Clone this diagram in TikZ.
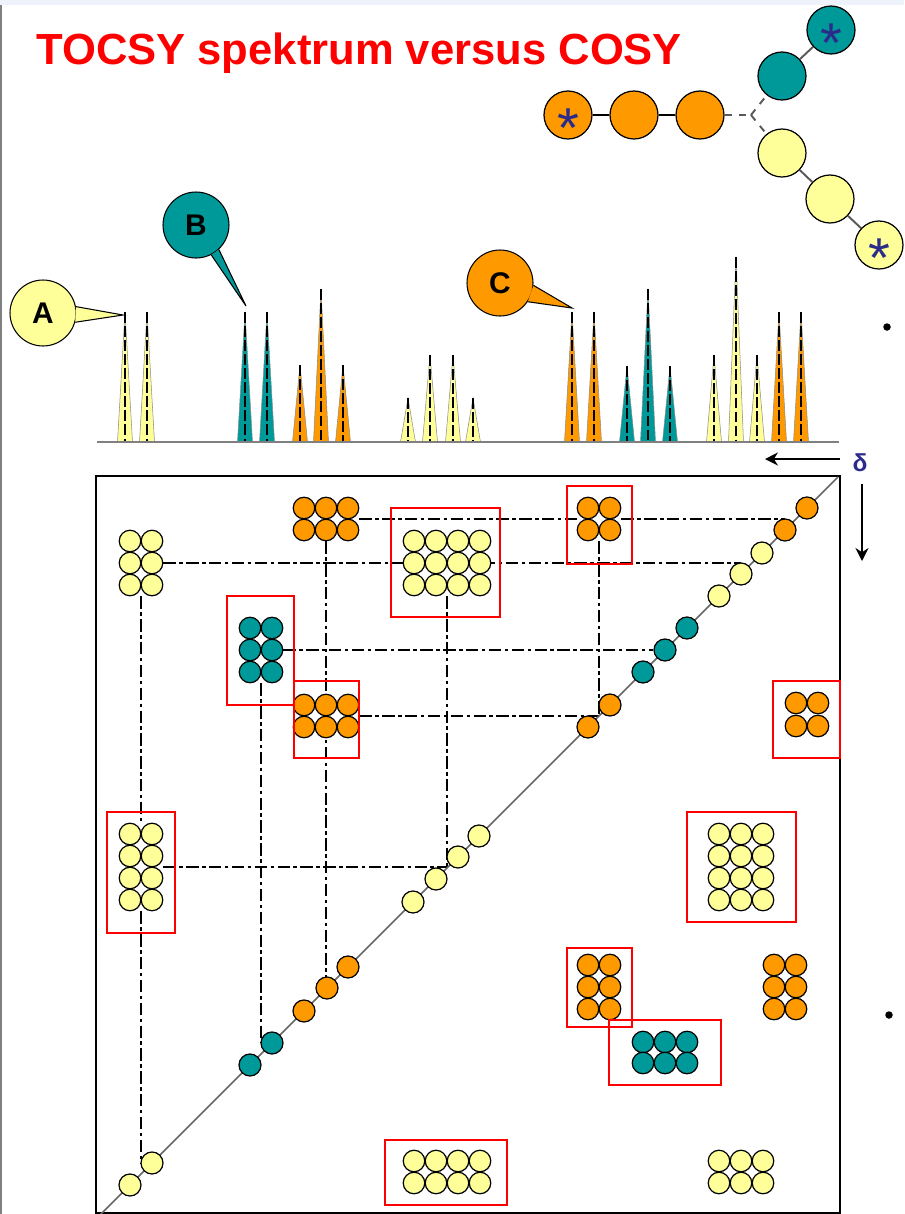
\documentclass[tikz,border=0pt]{standalone}
\usepackage{fontspec}
\setmainfont{Liberation Sans}
\usetikzlibrary{arrows.meta,backgrounds}
\definecolor{SpinOrange}{HTML}{FF9900}
\definecolor{SpinTeal}{HTML}{009999}
\definecolor{SpinYellow}{HTML}{FFFF99}
\definecolor{SlideRed}{HTML}{FF0000}
\definecolor{DeltaBlue}{HTML}{2B2B8C}
\definecolor{SlideTop}{HTML}{EEF2FA}
% one block of cross peaks: name, colour, columns, rows
\newcommand{\crosspeak}[4]{%
  \foreach \cx in {#3}{\foreach \cy in {#4}{\node[pk=#2] (#1-\cx-\cy) at (\cx,\cy) {};}}}

\begin{document}
\begin{tikzpicture}[x=0.02cm,y=-0.02cm,
  pk/.style={circle,draw=black,line width=0.7pt,fill=#1,minimum size=0.43cm,inner sep=0pt},
  ring/.style={circle,draw=black,line width=0.7pt,fill=#1,minimum size=0.96cm,inner sep=0pt},
  bubble/.style={circle,draw=black,line width=0.6pt,fill=#1,minimum size=1.32cm,inner sep=0pt,font=\fontsize{17}{17}\selectfont\bfseries},
  star/.style={text=DeltaBlue,font=\fontsize{32}{32}\selectfont,anchor=base,yshift=-18.6pt,inner sep=0pt},
  bond/.style={line width=1.1pt},
  xline/.style={line width=1.2pt,dash pattern=on 7pt off 2pt on 2pt off 2pt},
  redbox/.style={draw=SlideRed,line width=1.1pt},
  arr/.style={-{Stealth[length=2.6mm,width=2.6mm]},line width=0.9pt}]
  \useasboundingbox (0,0) rectangle (904,1214);
  \fill[SlideTop] (0,0) rectangle (904,5);
  \draw[gray,line width=1.2pt] (1,5) -- (1,1214);

  % title
  \node[anchor=base west,inner sep=0pt,text=SlideRed,font=\fontsize{24.8}{24.8}\selectfont\bfseries] (title) at (36,64) {TOCSY spektrum versus COSY};

  % molecule
  \node[ring=SpinOrange] (m1) at (568,115) {};
  \node[ring=SpinOrange] (m2) at (634,115) {};
  \node[ring=SpinOrange] (m3) at (700,115) {};
  \coordinate (br) at (751,115);
  \node[ring=SpinTeal] (m4) at (782,76) {};
  \node[ring=SpinTeal] (m5) at (831,30) {};
  \node[ring=SpinYellow] (m6) at (782,153) {};
  \node[ring=SpinYellow] (m7) at (830,199) {};
  \node[ring=SpinYellow] (m8) at (879,245) {};
  \node[star] (s1) at (m1) {*};
  \node[star] (s2) at (m5) {*};
  \node[star] (s3) at (m8) {*};
  \begin{scope}[on background layer]
    \draw[bond] (m1) -- (m2);
    \draw[bond] (m2) -- (m3);
    \draw[bond,gray!70!black,dash pattern=on 4pt off 4pt] (m3) -- (br);
    \draw[bond,gray!70!black,dash pattern=on 4pt off 4pt] (br) -- (m4);
    \draw[bond,gray!70!black,dash pattern=on 4pt off 4pt] (br) -- (m6);
    \draw[bond,gray!70!black] (m4) -- (m5);
    \draw[bond,gray!70!black] (m6) -- (m7);
    \draw[bond,gray!70!black] (m7) -- (m8);
  \end{scope}

  % 1D spectrum
  \foreach \px/\ph/\pc in {125/312/SpinYellow,147/312/SpinYellow,245/312/SpinTeal,267/312/SpinTeal,
      300/365/SpinOrange,321/289/SpinOrange,343/365/SpinOrange,408/398/SpinYellow,430/355/SpinYellow,
      453/355/SpinYellow,473/398/SpinYellow,572/312/SpinOrange,594/312/SpinOrange,627/366/SpinTeal,
      648/289/SpinTeal,670/366/SpinTeal,714/355/SpinYellow,736/257/SpinYellow,757/355/SpinYellow,
      779/312/SpinOrange,801/312/SpinOrange}{
    \filldraw[fill=\pc,draw=black!45,line width=0.3pt] (\px-7.5,442) -- (\px,\ph) -- (\px+7.5,442) -- cycle;
    \draw[line width=0.7pt,dash pattern=on 6pt off 2pt] (\px,\ph) -- (\px,442);
  }
  \draw[gray,line width=1.1pt] (97,442) -- (839,442);

  % labels A, B, C
  \coordinate (tipA) at (123,315);
  \coordinate (tipB) at (246,306);
  \coordinate (tipC) at (572,308);
  \node[bubble=SpinYellow] (A) at (43,313) {A};
  \fill[SpinYellow] (A.11) -- (tipA) -- (A.-16) -- cycle;
  \draw[line width=0.6pt] (A.11) -- (tipA) -- (A.-16);
  \node[bubble=SpinTeal] (B) at (196,225) {B};
  \fill[SpinTeal] (B.-47) -- (tipB) -- (B.-63) -- cycle;
  \draw[line width=0.6pt] (B.-47) -- (tipB) -- (B.-63);
  \node[bubble=SpinOrange] (C) at (500,283) {C};
  \fill[SpinOrange] (C.-4) -- (tipC) -- (C.-34) -- cycle;
  \draw[line width=0.6pt] (C.-4) -- (tipC) -- (C.-34);

  % delta axes
  \node[text=DeltaBlue,font=\fontsize{14}{14}\selectfont\bfseries] (delta) at (860,463) {δ};
  \coordinate (hfrom) at (840,459);
  \coordinate (hto) at (765,459);
  \coordinate (vfrom) at (862,484);
  \coordinate (vto) at (862,561);
  \draw[arr] (hfrom) -- (hto);
  \draw[arr] (vfrom) -- (vto);

  % 2D map
  \coordinate (bl) at (96,1213);
  \coordinate (tr) at (840,476);
  \draw[line width=1.5pt] (bl) rectangle (tr);
  \coordinate (dlo) at (97,1218);
  \coordinate (dhi) at (838,477);
  \draw[gray!80!black,line width=0.9pt] (dlo) -- (dhi);
  \foreach \dx/\dc [count=\i] in {130/SpinYellow,152/SpinYellow,250/SpinTeal,272/SpinTeal,304/SpinOrange,
      327/SpinOrange,348/SpinOrange,413/SpinYellow,436/SpinYellow,458/SpinYellow,479/SpinYellow,
      588/SpinOrange,610/SpinOrange,643/SpinTeal,665/SpinTeal,687/SpinTeal,719/SpinYellow,
      741/SpinYellow,762/SpinYellow,785/SpinOrange,807/SpinOrange}
    \node[pk=\dc,minimum size=0.44cm] (d\i) at (\dx,{1315-\dx}) {};

  % cross peaks above the diagonal
  \crosspeak{yA}{SpinYellow}{130,152}{541,563,585}
  \crosspeak{oB}{SpinOrange}{304,326,348}{508,530}
  \crosspeak{yC}{SpinYellow}{414,436,458,480}{541,563,585}
  \crosspeak{tD}{SpinTeal}{250,272}{628,650,672}
  \crosspeak{oE}{SpinOrange}{304,326,348}{705,727}
  \crosspeak{oF}{SpinOrange}{588,610}{508,530}
  % cross peaks below the diagonal
  \crosspeak{yG}{SpinYellow}{130,152}{834,856,878,900}
  \crosspeak{yH}{SpinYellow}{414,436,458,480}{1161,1183}
  \crosspeak{yI}{SpinYellow}{719,741,763}{834,856,878,900}
  \crosspeak{oJ}{SpinOrange}{588,610}{965,987,1009}
  \crosspeak{oK}{SpinOrange}{774,796}{965,987,1009}
  \crosspeak{tL}{SpinTeal}{643,665,687}{1042,1063}
  \crosspeak{yM}{SpinYellow}{719,741,763}{1161,1183}
  \crosspeak{oN}{SpinOrange}{796,818}{703,726}

  % red frames
  \draw[redbox] (391,508) rectangle (500,617);
  \draw[redbox] (227,596) rectangle (294,705);
  \draw[redbox] (294,681) rectangle (359,758);
  \draw[redbox] (567,486) rectangle (632,564);
  \draw[redbox] (773,681) rectangle (840,758);
  \draw[redbox] (107,812) rectangle (175,933);
  \draw[redbox] (385,1140) rectangle (507,1205);
  \draw[redbox] (687,812) rectangle (796,922);
  \draw[redbox] (567,948) rectangle (632,1027);
  \draw[redbox] (609,1020) rectangle (721,1085);

  % correlation lines
  \begin{scope}[on background layer]
    \draw[xline] (oB-348-508.east |- oB-348-530.north) -- (oF-588-508.west |- oF-588-530.north);
    \draw[xline] (oF-610-508.east |- oF-610-530.north) -- (oF-610-530.north -| d20);
    \draw[xline] (yA-152-563.east) -- (yA-152-563 -| d18);
    \draw[xline] (tD-272-650.east) -- (d15);
    \draw[xline] (oE-348-705.east |- oE-348-727.north) -- (oE-348-727.north -| oF-610-530.west);
    \draw[xline] (yG-152-856.east |- yG-152-878.north) -- (yC-458-585.west |- yG-152-878.north);
    \draw[xline] (yA-130-585.east |- yA-130-585.south) -- (yA-130-585.east |- yG-130-834.north);
    \draw[xline] (yG-130-900.east |- yG-130-900.south) -- (yG-130-900.east |- d2);
    \draw[xline] (oB-326-530.south) -- (oB-326-530 |- d6);
    \draw[xline] (yC-436-585.east |- yC-436-585.south) -- (yC-436-585.east |- yG-152-878.north);
    \draw[xline] (tD-250-672.east |- tD-250-672.south) -- (tD-250-672.east |- d4);
    \draw[xline] (oF-588-530.east |- oF-588-530.south) -- (oF-588-530.east |- oE-348-727.north);
  \end{scope}

  % bullets at the right edge
  \node[circle,fill=black,inner sep=0pt,minimum size=0.15cm] (bul1) at (887,327) {};
  \node[circle,fill=black,inner sep=0pt,minimum size=0.15cm] (bul2) at (889,1015) {};
\end{tikzpicture}
\end{document}
